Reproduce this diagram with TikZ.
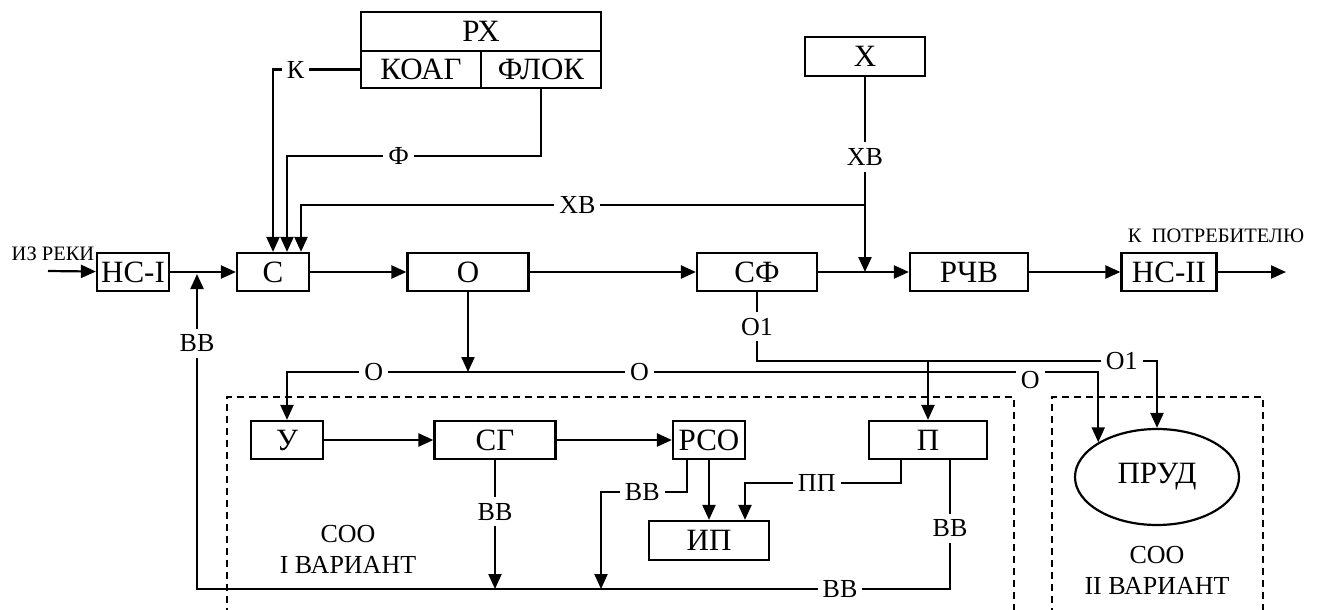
\documentclass[tikz,border=0pt]{standalone}
\usepackage{fontspec}
\setmainfont{Liberation Serif}
\usetikzlibrary{arrows.meta, positioning, shapes.geometric}

\begin{document}
\begin{tikzpicture}[
    x=1pt, y=-1pt,
    blk/.style={draw, line width=2.2pt, minimum height=38pt, inner sep=0pt,
                font=\fontsize{31}{32}\selectfont},
    link/.style={-{Triangle[length=15pt, width=13pt]}, line width=2.2pt},
    lblstyle/.style={fill=white, inner xsep=5pt, inner ysep=6pt,
                     font=\fontsize{26}{28}\selectfont},
    frame/.style={line width=2pt, dash pattern=on 7pt off 5pt},
    note/.style={font=\fontsize{20.5}{22}\selectfont, anchor=base},
    soo/.style={align=center, font=\fontsize{26}{31}\selectfont},
]
\useasboundingbox (0,0) rectangle (1334,610);

% main line
\node[blk, minimum width=72pt]  (ns1)  at (133,272)  {НС-I};
\node[blk, minimum width=72pt]  (s)    at (273,272)  {С};
\node[blk, minimum width=121pt] (o)    at (468,272)  {О};
\node[blk, minimum width=120pt] (sf)   at (757,272)  {СФ};
\node[blk, minimum width=118pt] (rchv) at (969,272)  {РЧВ};
\node[blk, minimum width=95pt]  (ns2)  at (1169,272) {НС-II};

% reagents and chlorine
\node[blk, minimum width=240pt, minimum height=39pt] (rx)   at (481,31.5) {РХ};
\node[blk, minimum width=120pt, minimum height=37pt] (koag) at (421,69.5) {КОАГ};
\node[blk, minimum width=120pt, minimum height=37pt] (flok) at (541,69.5) {ФЛОК};
\node[blk, minimum width=120pt, minimum height=39pt] (x)    at (865,56.5) {Х};

% sludge treatment
\node[blk, minimum width=72pt]  (u)   at (287,440)   {У};
\node[blk, minimum width=121pt] (sg)  at (495,440)   {СГ};
\node[blk, minimum width=72pt]  (rso) at (709,440)   {РСО};
\node[blk, minimum width=120pt, minimum height=39pt] (ip) at (709,540.5) {ИП};
\node[blk, minimum width=118pt] (p)   at (928,440)   {П};
\node[blk, ellipse, minimum width=164pt, minimum height=96pt] (prud) at (1157,477) {ПРУД};

% texts
\node[note] (river)    at (53,260)   {ИЗ РЕКИ};
\node[note] (consumer) at (1216,242) {К\ \ ПОТРЕБИТЕЛЮ};
\node[soo]  (soo1)     at (348,549)  {СОО\\I ВАРИАНТ};
\node[soo]  (soo2)     at (1157,570) {СОО\\II ВАРИАНТ};

% frames
\draw[frame] (227,615) -- (227,397) -- (1014,397) -- (1014,615);
\draw[frame] (1052,615) -- (1052,397) -- (1263,397) -- (1263,615);

\coordinate (src)  at (48,271);
\coordinate (dst)  at (1286,272);
\coordinate (jxv)  at (865,205);
\coordinate (jo)   at (468,372);
\coordinate (jo1)  at (757,361);
\coordinate (jrso) at (601,589);
\coordinate (jbot) at (197,589);
\coordinate (jin)  at (197,274);

% river -> consumer
\draw[link] (src) -- (ns1);
\draw[link] (ns1) -- (s);
\draw[link] (s) -- (o);
\draw[link] (o) -- (sf);
\draw[link] (sf) -- (rchv);
\draw[link] (rchv) -- (ns2);
\draw[link] (ns2) -- (dst);

% КОАГ -> С
\draw[link] (koag.west) -| node[lblstyle, pos=0.37] {К} (s.north);

% ФЛОК -> С
\draw[link] (flok.south) -- ++(0,67) -| node[lblstyle, pos=0.28] {Ф} ([xshift=14pt]s.north);

% Х -> line before РЧВ
\draw[link] (x.south) -- node[lblstyle, pos=0.41] {ХВ} (x.south |- sf.east);

% ХВ -> С
\draw[link] (jxv) -| node[lblstyle, pos=0.255] {ХВ} ([xshift=28pt]s.north);

% О -> sludge
\draw[link] (o.south) -- (jo);
\draw[link] (jo) -| node[lblstyle, pos=0.26] {О} (u.north);
\draw[link] (jo) -| node[lblstyle, pos=0.136] {О}
                    node[lblstyle, pos=0.446, yshift=-8pt] {О} (prud.north west);

% СФ -> О1
\draw[link] (sf.south) -- node[lblstyle] {О1} (jo1) -| node[lblstyle, pos=0.456] {О1} (prud.north);
\draw[link] (p.north |- jo1) -- (p.north);

% lower line
\draw[link] (u) -- (sg);
\draw[link] (sg) -- (rso);
\draw[link] (rso) -- (ip);

% П -> ИП
\draw[link] ([xshift=-27pt]p.south) -- ++(0,23) -| node[lblstyle, pos=0.27] {ПП} ([xshift=36pt]ip.north);

% РСО -> ВВ
\draw[link] ([xshift=-22pt]rso.south) -- ++(0,32) -| node[lblstyle, pos=0.26] {ВВ} (jrso);

% СГ -> ВВ
\draw[link] (sg.south) -- node[lblstyle, pos=0.4] {ВВ} (sg.south |- jrso);

% П -> ВВ -> back to С
\draw[link] ([xshift=22pt]p.south) -- node[lblstyle, pos=0.53] {ВВ} ([xshift=22pt]p.south |- jbot)
            -- node[lblstyle, pos=0.146] {ВВ} (jbot)
            -- node[lblstyle, pos=0.78] {ВВ} (jin);

\end{tikzpicture}
\end{document}
